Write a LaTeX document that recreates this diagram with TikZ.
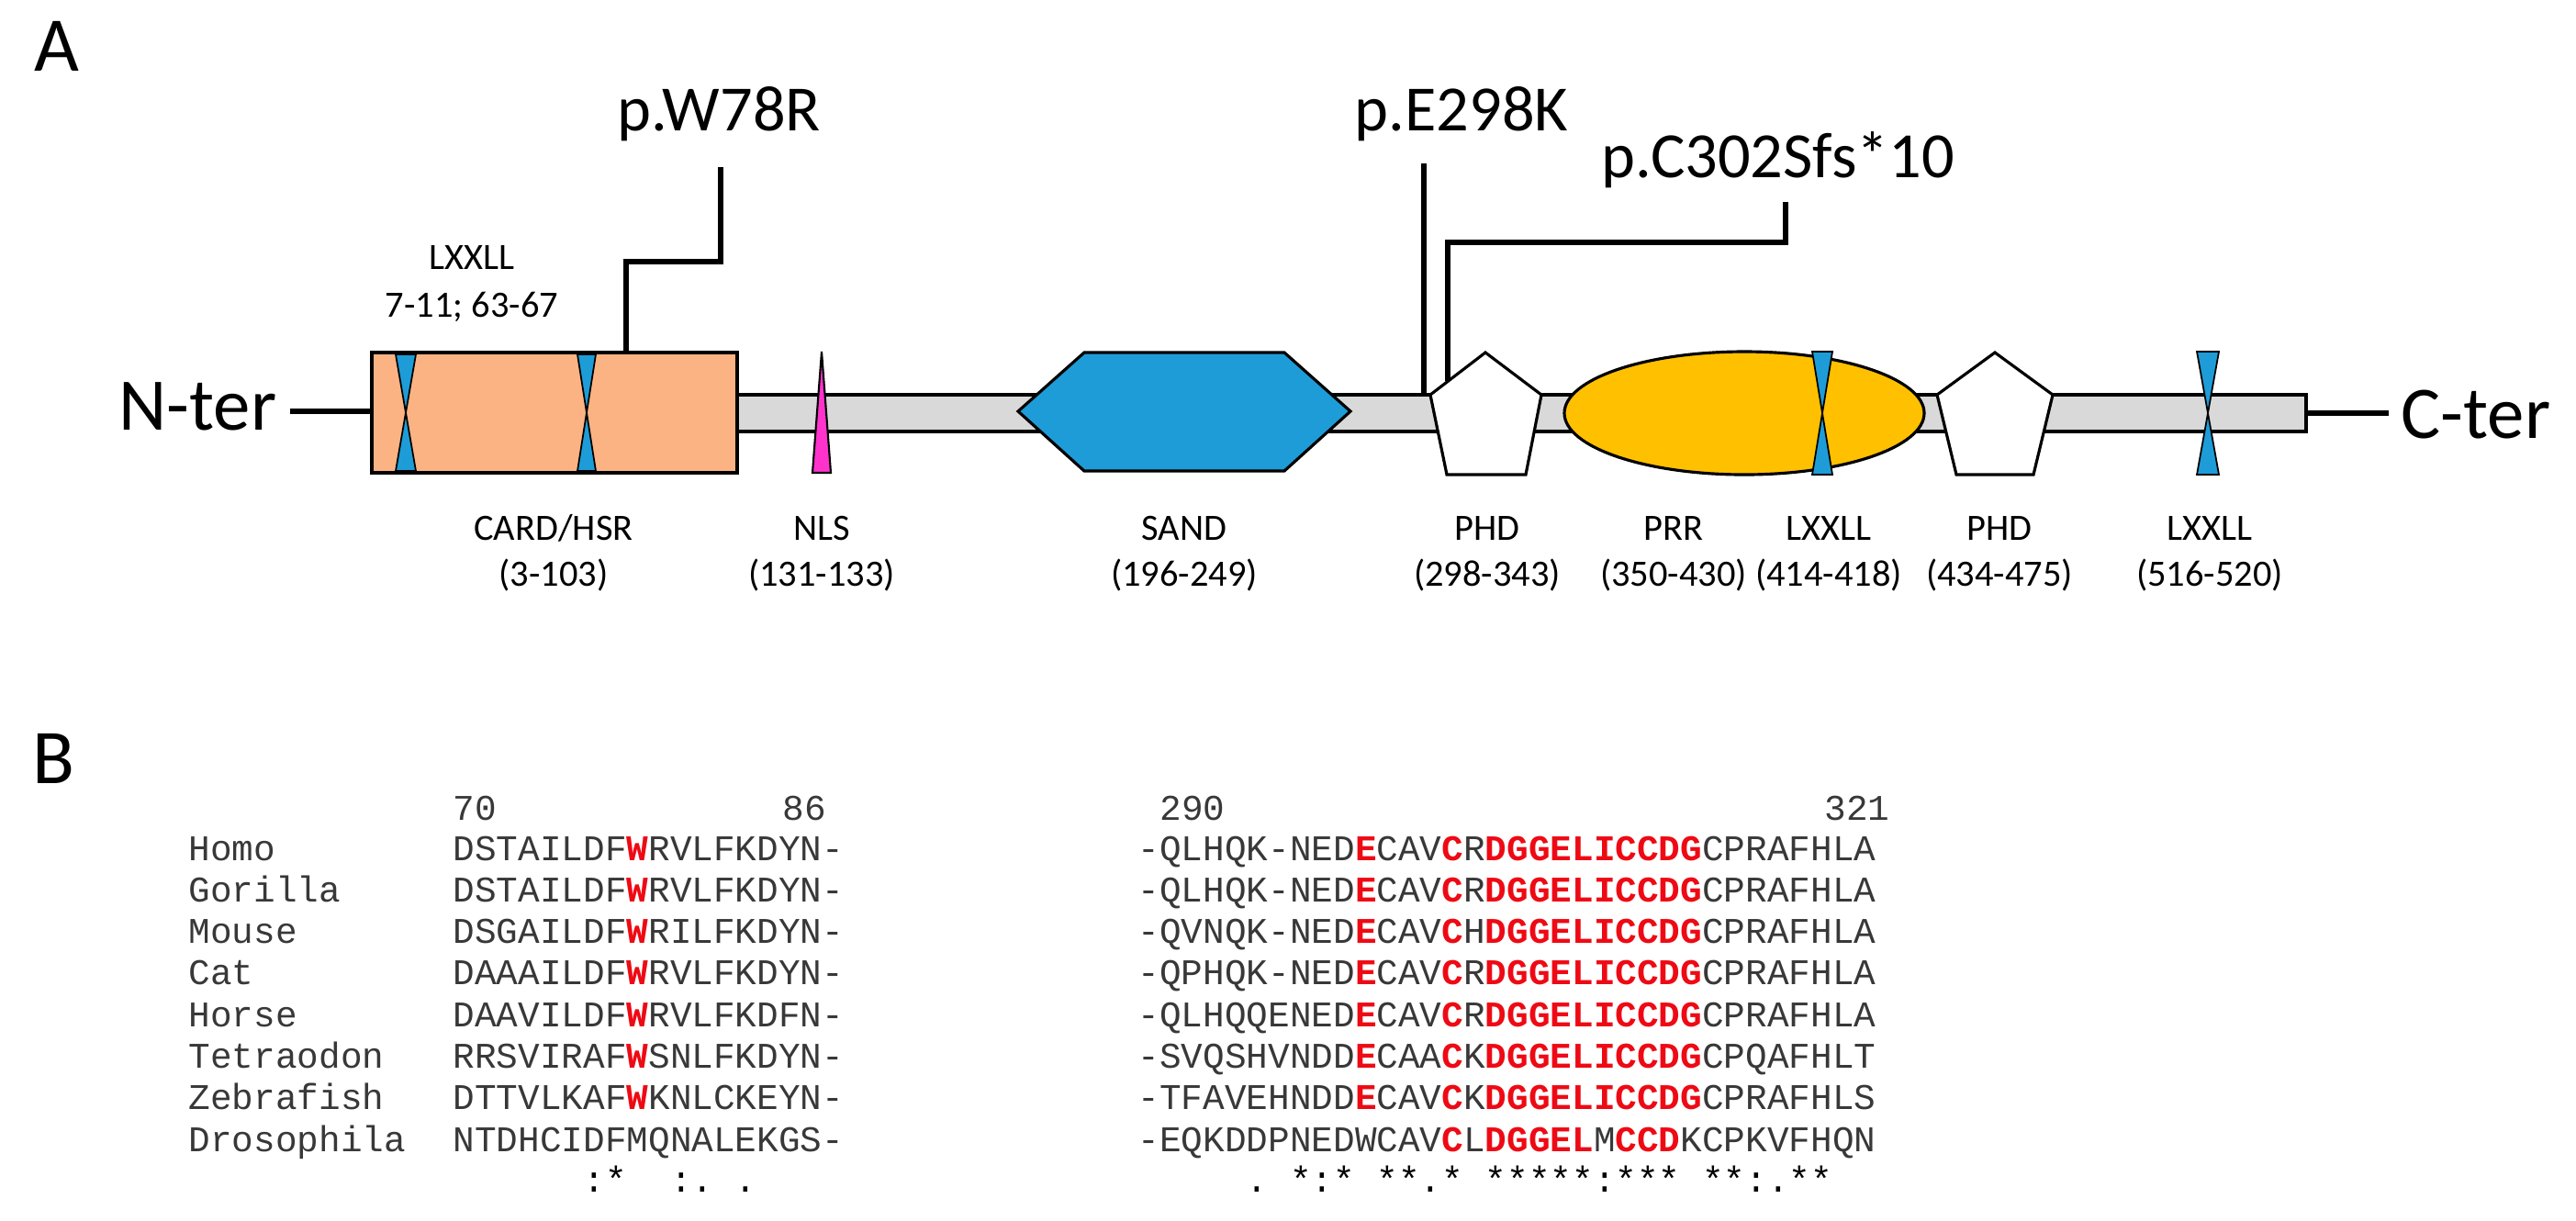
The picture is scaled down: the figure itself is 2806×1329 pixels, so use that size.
\documentclass[tikz,border=0pt]{standalone}
\usepackage{fontspec}
\setmainfont{Carlito}
\newfontfamily\monof{Liberation Mono}
\definecolor{cardc}{HTML}{FBB383}
\definecolor{lxblue}{HTML}{1E9CD8}
\definecolor{nlsc}{HTML}{FF33CC}
\definecolor{prrc}{HTML}{FFC000}
\definecolor{barc}{HTML}{D9D9D9}
\definecolor{redc}{HTML}{EE0A14}
\newcommand\rd[1]{\textcolor{redc}{\bfseries #1}}
\newcommand\blk{\hphantom{0}}
\newcommand\hglass[4]{%
  \filldraw[lx] (#1-#2,#3) -- (#1+#2,#3) -- (#1,{(#3+#4)/2}) -- cycle;
  \filldraw[lx] (#1-#2,#4) -- (#1+#2,#4) -- (#1,{(#3+#4)/2}) -- cycle;}
\begin{document}
\begin{tikzpicture}[x=0.01cm,y=-0.01cm,
  dom/.style={font=\fontsize{11.5}{13}\selectfont, anchor=base, inner sep=0},
  mut/.style={font=\fontsize{20}{24}\selectfont, inner sep=0},
  term/.style={font=\fontsize{23}{27}\selectfont, inner sep=0},
  panel/.style={font=\fontsize{24}{28}\selectfont, inner sep=0, anchor=base west},
  seq/.style={font=\monof\fontsize{11.2}{13}\selectfont, anchor=base west, inner sep=0, text=black!78},
  conn/.style={line width=1.7pt},
  lx/.style={fill=lxblue, draw=black, line width=0.5pt},
  shp/.style={draw=black, line width=0.9pt}]
\useasboundingbox (0,0) rectangle (2806,1329);
% panel letters
\node[panel] (pA) at (37,77) {A};
\node[panel] (pB) at (35,853) {B};
% backbone
\coordinate (nl) at (316,448); \coordinate (nr) at (405,448);
\coordinate (cl) at (2512,450); \coordinate (cr) at (2602,450);
\draw[line width=1.6pt] (nl) -- (nr);
\draw[line width=1.6pt] (cl) -- (cr);
\draw[fill=barc, line width=1.4pt] (803,430) rectangle (2512,470);
\node[term, anchor=base east] (nter) at (302,468) {N-ter};
\node[term, anchor=base west] (cter) at (2615,477) {C-ter};
% CARD
\draw[fill=cardc, line width=1.4pt] (405,384) rectangle (803,515);
\hglass{442}{11}{386}{513}
\hglass{639}{10}{386}{513}
% NLS
\filldraw[fill=nlsc, draw=black, line width=0.6pt] (895,383) -- (905,515) -- (885,515) -- cycle;
% SAND
\filldraw[shp, fill=lxblue] (1109,448) -- (1181,384) -- (1399,384) -- (1471,448) -- (1399,513) -- (1181,513) -- cycle;
% PHD 1
\filldraw[shp, fill=white] (1618,384) -- (1679,430) -- (1662,517) -- (1576,517) -- (1558,430) -- cycle;
% PRR
\filldraw[shp, fill=prrc] (1900,450) ellipse [x radius=196, y radius=67];
\hglass{1985}{11}{383}{517}
% PHD 2
\filldraw[shp, fill=white] (2173,384) -- (2236,430) -- (2215,517) -- (2131,517) -- (2110,430) -- cycle;
% LXXLL 516-520
\hglass{2405}{12}{383}{517}
% mutations
\coordinate (w1) at (682,384); \coordinate (w2) at (682,285);
\coordinate (w3) at (785,285); \coordinate (w4) at (785,182);
\draw[conn] (w1) -- (w2) -- (w3) -- (w4);
\node[mut, anchor=base] (mw) at (783,142) {p.W78R};
\coordinate (e1) at (1551,430); \coordinate (e2) at (1551,178);
\draw[conn] (e1) -- (e2);
\node[mut, anchor=base] (me) at (1592,142) {p.E298K};
\coordinate (c1) at (1577,415); \coordinate (c2) at (1577,264);
\coordinate (c3) at (1945,264); \coordinate (c4) at (1945,220);
\draw[conn] (c1) -- (c2) -- (c3) -- (c4);
\node[mut, anchor=base west] (mc) at (1744,193) {p.C302Sfs*10};
% domain labels
\node[dom] (l1a) at (514,293) {LXXLL};
\node[dom] (l1b) at (514,345) {7-11; 63-67};
\node[dom] (d1) at (603,588) {CARD/HSR};
\node[dom] (d1r) at (603,638) {(3-103)};
\node[dom] (d2) at (895,588) {NLS};
\node[dom] (d2r) at (895,638) {(131-133)};
\node[dom] (d3) at (1290,588) {SAND};
\node[dom] (d3r) at (1290,638) {(196-249)};
\node[dom] (d4) at (1620,588) {PHD};
\node[dom] (d4r) at (1620,638) {(298-343)};
\node[dom] (d5) at (1823,588) {PRR};
\node[dom] (d5r) at (1823,638) {(350-430)};
\node[dom] (d6) at (1992,588) {LXXLL};
\node[dom] (d6r) at (1992,638) {(414-418)};
\node[dom] (d7) at (2178,588) {PHD};
\node[dom] (d7r) at (2178,638) {(434-475)};
\node[dom] (d8) at (2407,588) {LXXLL};
\node[dom] (d8r) at (2407,638) {(516-520)};
% alignment
\node[seq] (n70) at (493,893) {70};
\node[seq] (n86) at (852,893) {86};
\node[seq] (n290) at (1263,893) {290};
\node[seq] (n321) at (1987,893) {321};
\foreach \nm/\ls/\rs [count=\i from 0] in {
 Homo/{DSTAILDF\rd{W}RVLFKDYN-}/{-QLHQK-NED\rd{E}CAV\rd{C}R\rd{DGGELICCDG}CPRAFHLA},
 Gorilla/{DSTAILDF\rd{W}RVLFKDYN-}/{-QLHQK-NED\rd{E}CAV\rd{C}R\rd{DGGELICCDG}CPRAFHLA},
 Mouse/{DSGAILDF\rd{W}RILFKDYN-}/{-QVNQK-NED\rd{E}CAV\rd{C}H\rd{DGGELICCDG}CPRAFHLA},
 Cat/{DAAAILDF\rd{W}RVLFKDYN-}/{-QPHQK-NED\rd{E}CAV\rd{C}R\rd{DGGELICCDG}CPRAFHLA},
 Horse/{DAAVILDF\rd{W}RVLFKDFN-}/{-QLHQQENED\rd{E}CAV\rd{C}R\rd{DGGELICCDG}CPRAFHLA},
 Tetraodon/{RRSVIRAF\rd{W}SNLFKDYN-}/{-SVQSHVNDD\rd{E}CAA\rd{C}K\rd{DGGELICCDG}CPQAFHLT},
 Zebrafish/{DTTVLKAF\rd{W}KNLCKEYN-}/{-TFAVEHNDD\rd{E}CAV\rd{C}K\rd{DGGELICCDG}CPRAFHLS},
 Drosophila/{NTDHCIDFMQNALEKGS-}/{-EQKDDPNEDWCAV\rd{C}L\rd{DGGEL}M\rd{CCD}KCPKVFHQN}} {
  \node[seq] (sp\i) at (205,937+45.3*\i) {\nm};
  \node[seq] (sl\i) at (493,937+45.3*\i) {\ls};
  \node[seq] (sr\i) at (1239,937+45.3*\i) {\rs};
}
\node[seq, text=black] (consl) at (493,1298) {\blk\blk\blk\blk\blk\blk:*\blk\blk:.\blk.};
\node[seq, text=black] (consr) at (1239,1298) {\blk\blk\blk\blk\blk.\blk*:*\blk**.*\blk*****:***\blk**:.**};
\end{tikzpicture}
\end{document}
